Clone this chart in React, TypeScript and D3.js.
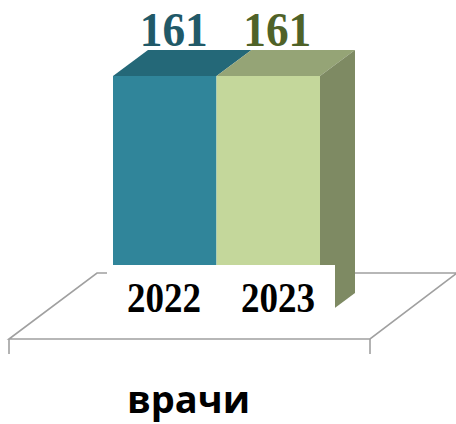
import React from "react";
import * as d3 from "d3";

const categories = ["2022", "2023"];
const values = [161, 161];
const valueLabels = ["161", "161"];
const seriesName = "врачи";

const frontColors = ["#30859A", "#C4D79B"];
const topColors = ["#246878", "#95A476"];
const sideColors = ["#1F5A68", "#7E8A63"];
const labelColors = ["#215968", "#4F6228"];

const W = 456;
const H = 424;

export default function App() {
  const x = d3.scaleBand<string>().domain(categories).range([113, 320]).padding(0);
  const xLabel = d3.scaleBand<string>().domain(categories).range([107, 335]).padding(0);
  const y = d3.scaleLinear().domain([0, 161]).range([319, 76]);
  const depth = { dx: 35, dy: -26 };

  // floor
  const floorFrontY = 339;
  const floorBackY = 273;
  const floorL = 9;
  const floorR = 370;
  const floorDx = 87;
  const floorThick = 15;

  const bw = x.bandwidth();
  const last = categories.length - 1;

  return (
    <svg width={W} height={H} style={{ position: "absolute", left: 0, top: 0 }}>
      <rect width={W} height={H} fill="#fff" />
      {/* floor */}
      <g fill="none" stroke="#A0A0A0" strokeWidth={1.6}>
        <path
          d={`M${floorL},${floorFrontY}L${floorR},${floorFrontY}L${floorR + floorDx},${floorBackY}L${floorL + floorDx + 1},${floorBackY}Z`}
          fill="#fff"
        />
        <line x1={floorL} y1={floorFrontY} x2={floorL} y2={floorFrontY + floorThick} />
        <line x1={floorR} y1={floorFrontY} x2={floorR} y2={floorFrontY + floorThick} />
      </g>
      {/* bars */}
      {categories.map((c, i) => {
        const x0 = x(c)!;
        const x1 = x0 + bw;
        const yt = y(values[i]);
        const yb = y(0);
        return (
          <g key={c}>
            <path
              d={`M${x0},${yt}L${x0 + depth.dx},${yt + depth.dy}L${x1 + depth.dx},${yt + depth.dy}L${x1},${yt}Z`}
              fill={topColors[i]}
            />
            {i === last && (
              <path
                d={`M${x1},${yt}L${x1 + depth.dx},${yt + depth.dy}L${x1 + depth.dx},${yb + depth.dy}L${x1},${yb}Z`}
                fill={sideColors[i]}
              />
            )}
            <rect x={x0} y={yt} width={bw} height={yb - yt} fill={frontColors[i]} />
          </g>
        );
      })}
      {/* label box */}
      <rect x={107} y={265} width={228} height={62} fill="#fff" />
      {categories.map((c, i) => (
        <text
          key={c}
          transform={`translate(${xLabel(c)! + xLabel.bandwidth() / 2},312) scale(1.03,1.15)`}
          textAnchor="middle"
          fontFamily="'Liberation Serif', 'Times New Roman', serif"
          fontWeight="bold"
          fontSize={36}
          fill="#000"
        >
          {c}
        </text>
      ))}
      {categories.map((c, i) => (
        <text
          key={"v" + c}
          transform={`translate(${x(c)! + bw / 2 + 9},46) scale(1.03,1.1)`}
          textAnchor="middle"
          fontFamily="'Liberation Serif', 'Times New Roman', serif"
          fontWeight="bold"
          fontSize={44}
          fill={labelColors[i]}
        >
          {valueLabels[i]}
        </text>
      ))}
      <text
        x={188.5}
        y={413}
        textAnchor="middle"
        fontFamily="'Open Sans', sans-serif"
        fontWeight="bold"
        fontSize={38}
        fill="#000"
      >
        {seriesName}
      </text>
    </svg>
  );
}
